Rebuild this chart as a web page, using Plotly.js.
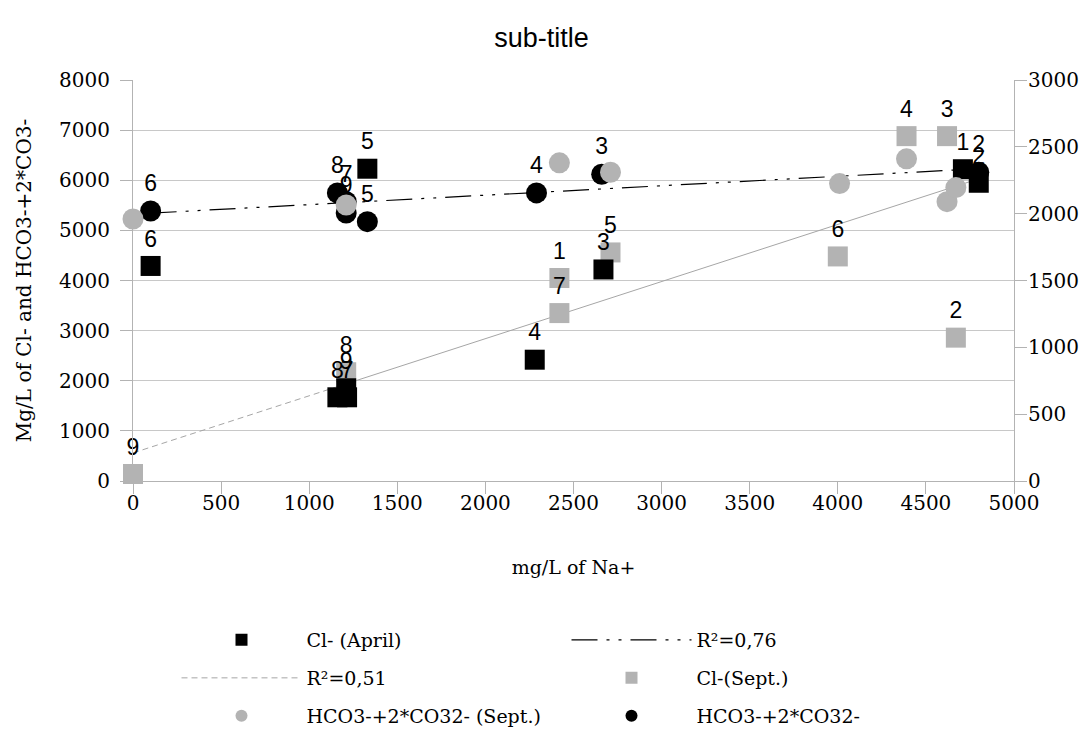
<!DOCTYPE html>
<html>
<head>
<meta charset="utf-8">
<script src="https://cdn.plot.ly/plotly-3.0.1.min.js"></script>
<style>html,body{margin:0;padding:0;background:#fff;}#chart{width:1083px;height:731px;}</style>
</head>
<body>
<div id="chart"></div>
<script>
// ---- data ----
// Cl- (April), left axis
const clAprilLabels = ["1","2","3","4","5","6","7","8","9"];
const clAprilNa     = [4710, 4800, 2670, 2280, 1330, 100, 1215, 1160, 1210];
const clAprilCl     = [6220, 5950, 4220, 2420, 6230, 4290, 1670, 1670, 1850];

// Cl-(Sept.), left axis
const clSeptLabels = ["1","2","3","4","5","6","7","8","9"];
const clSeptNa     = [2420, 4670, 4620, 4390, 2710, 4000, 2420, 1210, 0];
const clSeptCl     = [4050, 2860, 6880, 6880, 4560, 4480, 3350, 2170, 140];

// HCO3-+2*CO32- (Sept.), right axis (no labels)
const hcoSeptNa = [0, 1210, 2420, 2710, 4010, 4390, 4620, 4670];
const hcoSeptV  = [1960, 2065, 2380, 2310, 2225, 2410, 2090, 2195];

// HCO3-+2*CO32- (April), right axis
const hcoAprLabels = ["6","8","7","9","5","4","3","2"];
const hcoAprNa     = [100, 1160, 1210, 1210, 1330, 2290, 2660, 4800];
const hcoAprV      = [2020, 2155, 2090, 2005, 1940, 2155, 2295, 2310];

// trend lines (endpoints)
const trend076Na = [100, 4800];
const trend076V  = [2004, 2336];      // right axis
const trend051DashNa = [0, 1150];
const trend051DashV  = [560, 1871];   // left axis
const trend051SolidNa = [1150, 4800];
const trend051SolidV  = [1871, 6030];

const xTicks = [0,500,1000,1500,2000,2500,3000,3500,4000,4500,5000];

// legend entries
const legendNames = ["Cl- (April)", "R²=0,76", "R²=0,51", "Cl-(Sept.)", "HCO3-+2*CO32- (Sept.)", "HCO3-+2*CO32-"];

const serif = "DejaVu Serif, Liberation Serif, serif";
const sans = "Liberation Sans, Arial, sans-serif";
const GRAY = "#b3b3b3";
const labelFont = {family: sans, size: 23, color: "#000"};
const dash076 = "26px,9px,3px,9px,3px,9px";

const traces = [
  {x: trend051DashNa, y: trend051DashV, mode: "lines", showlegend: false,
   line: {color: "#a6a6a6", width: 1, dash: "6px,4px"}, hoverinfo: "skip"},
  {x: trend051SolidNa, y: trend051SolidV, mode: "lines", showlegend: false,
   line: {color: "#a6a6a6", width: 1}, hoverinfo: "skip"},
  {x: trend076Na, y: trend076V, yaxis: "y2", mode: "lines", showlegend: false,
   line: {color: "#000", width: 1.2, dash: dash076}, hoverinfo: "skip"},
  {x: clSeptNa, y: clSeptCl, mode: "markers+text", showlegend: false,
   text: clSeptLabels, textposition: "top center", textfont: labelFont,
   marker: {symbol: "square", size: 20, color: GRAY}, cliponaxis: false},
  {x: clAprilNa, y: clAprilCl, mode: "markers+text", showlegend: false,
   text: clAprilLabels, textposition: "top center", textfont: labelFont,
   marker: {symbol: "square", size: 20, color: "#000"}, cliponaxis: false},
  {x: hcoAprNa, y: hcoAprV, yaxis: "y2", mode: "markers+text", showlegend: false,
   text: hcoAprLabels, textposition: "top center", textfont: labelFont,
   marker: {symbol: "circle", size: 21, color: "#000"}, cliponaxis: false},
  {x: hcoSeptNa, y: hcoSeptV, yaxis: "y2", mode: "markers", showlegend: false,
   marker: {symbol: "circle", size: 21, color: GRAY}, cliponaxis: false},

  // legend entries (no data of their own), one legend box each
  {x: [null], y: [null], mode: "markers", name: legendNames[0], legend: "legend",
   marker: {symbol: "square", size: 12, color: "#000"}},
  {x: [null], y: [null], mode: "lines", name: legendNames[1], legend: "legend2",
   line: {color: "#000", width: 1.2, dash: dash076}},
  {x: [null], y: [null], mode: "lines", name: legendNames[2], legend: "legend3",
   line: {color: "#a6a6a6", width: 1, dash: "6px,4px"}},
  {x: [null], y: [null], mode: "markers", name: legendNames[3], legend: "legend4",
   marker: {symbol: "square", size: 12, color: GRAY}},
  {x: [null], y: [null], mode: "markers", name: legendNames[4], legend: "legend5",
   marker: {symbol: "circle", size: 12, color: GRAY}},
  {x: [null], y: [null], mode: "markers", name: legendNames[5], legend: "legend6",
   marker: {symbol: "circle", size: 12, color: "#000"}}
];

function leg(col, row) {
  const xs = [176.5, 566.5];
  const ys = [640, 678, 716];
  return {
    orientation: "h", xref: "container", yref: "container", xanchor: "left", yanchor: "middle",
    x: xs[col] / 1083, y: 1 - ys[row] / 731, itemwidth: 120,
    font: {family: serif, size: 19, color: "#000"}, bgcolor: "rgba(0,0,0,0)"
  };
}

const tickFont = {family: serif, size: 20, color: "#000"};

const layout = {
  width: 1083, height: 731,
  margin: {l: 133, r: 69, t: 80, b: 250},
  paper_bgcolor: "#fff", plot_bgcolor: "#fff",
  title: {text: "sub-title", font: {family: sans, size: 27, color: "#000"},
          xref: "container", x: 0.5, xanchor: "center", yref: "container", y: 1 - 38/731, yanchor: "middle"},
  xaxis: {range: [0, 5000], tickvals: xTicks, ticktext: xTicks.map(String),
          showgrid: false, zeroline: false, showline: true, linecolor: "#b3b3b3", linewidth: 1,
          ticks: "outside", ticklen: 12, tickcolor: "#b3b3b3", ticklabelstandoff: -8,
          tickfont: tickFont,
          title: {text: "mg/L of Na+", font: {family: serif, size: 19, color: "#000"}, standoff: 46}},
  yaxis: {range: [0, 8000], dtick: 1000, showgrid: true, gridcolor: "#c8c8c8", gridwidth: 1,
          zeroline: false, showline: true, linecolor: "#b3b3b3",
          ticks: "outside", ticklen: 12, tickcolor: "#b3b3b3", ticklabelstandoff: 6,
          tickfont: tickFont,
          title: {text: "Mg/L of Cl- and HCO3-+2*CO3-", font: {family: serif, size: 20, color: "#000"}, standoff: 22}},
  yaxis2: {range: [0, 3000], dtick: 500, overlaying: "y", side: "right", showgrid: false,
           zeroline: false, showline: true, linecolor: "#b3b3b3",
           ticks: "outside", ticklen: 12, tickcolor: "#b3b3b3", ticklabelstandoff: -3,
           tickfont: tickFont},
  legend: leg(0, 0), legend2: leg(1, 0),
  legend3: leg(0, 1), legend4: leg(1, 1),
  legend5: leg(0, 2), legend6: leg(1, 2),
  showlegend: true
};

Plotly.newPlot("chart", traces, layout, {displayModeBar: false, staticPlot: true});
</script>
</body>
</html>
